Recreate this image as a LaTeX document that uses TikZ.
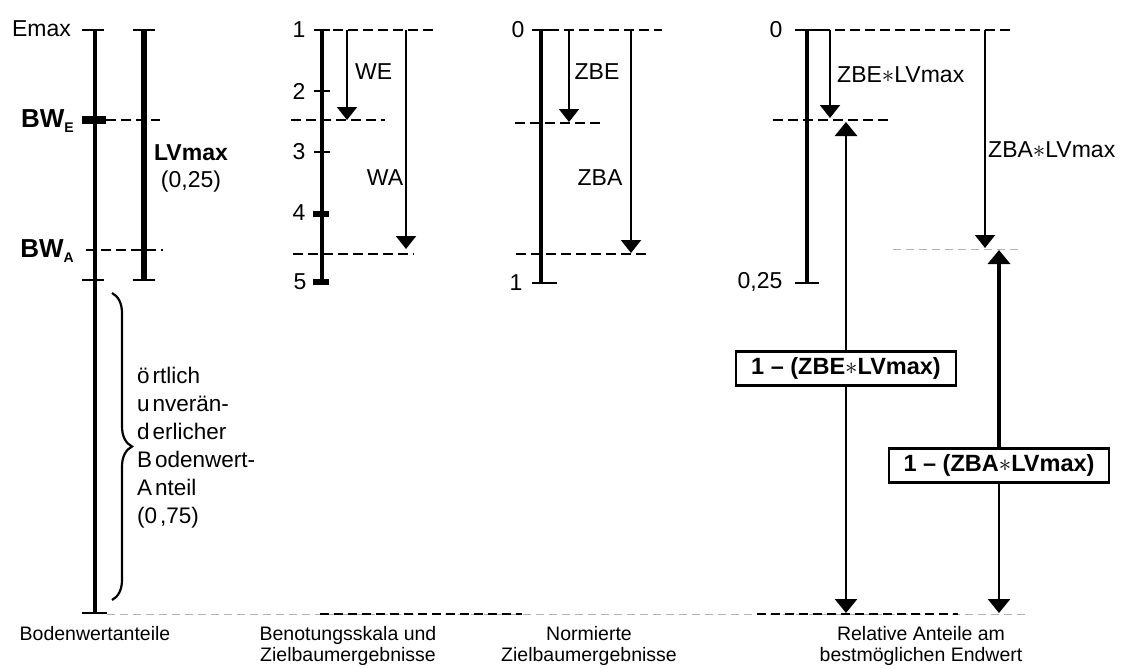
\documentclass[tikz,border=0pt]{standalone}
\usepackage{fontspec}
\setmainfont{Liberation Sans}
\usetikzlibrary{arrows.meta,decorations.pathreplacing}
\newcommand{\bwfont}{\fontsize{26}{28}\selectfont\bfseries}
\newcommand{\subfnt}{\fontsize{14}{14}\selectfont\bfseries}
\begin{document}
\begin{tikzpicture}[x=1pt,y=-1pt,
  every node/.style={inner sep=0pt, font=\fontsize{23}{26}\selectfont},
  scaleline/.style={line width=3.2pt},
  tickline/.style={line width=2.8pt},
  thickbar/.style={line width=6.5pt},
  dline/.style={line width=2.1pt, dash pattern=on 10pt off 5pt},
  gline/.style={line width=1pt, black!30, dash pattern=on 8pt off 5pt},
  bline/.style={line width=1.6pt, dash pattern=on 9pt off 5pt},
  thinarr/.style={line width=2pt, -{Triangle[width=20pt,length=13pt]}},
  medarr/.style={line width=2.8pt, -{Triangle[width=22pt,length=14pt]}},
  bigarr/.style={line width=4.5pt, -{Triangle[width=22pt,length=14pt]}},
  boxed/.style={draw, line width=2.6pt, fill=white, minimum height=34pt, minimum width=220pt, font=\fontsize{23.5}{25}\selectfont\bfseries},
  botlab/.style={align=center, font=\fontsize{19.5}{21}\selectfont},
  scalelab/.style={anchor=center},
]
\useasboundingbox (0,0) rectangle (1124,669);

% ---------------- left column: Bodenwertanteile
\coordinate (Ltop) at (95,30);
\coordinate (Lbot) at (95,613);
\draw[scaleline] (Ltop) -- (Lbot);
\draw[tickline] (82,30) -- (104,30);
\draw[tickline] (82,280) -- (104,280);
\draw[tickline] (82,613) -- (107,613);
\fill (82,116) rectangle (106,124);
\node[anchor=east] (emax) at (71,29) {Emax};
\node[anchor=east] (bwe) at (74,121) {\bwfont BW\raisebox{-5pt}{\subfnt E}};
\node[anchor=east] (bwa) at (74,251) {\bwfont BW\raisebox{-5pt}{\subfnt A}};
\draw[dline] (106,120) -- (160,120);
\draw[dline] (86,250) -- (163,250);

\coordinate (LVtop) at (144,30);
\coordinate (LVbot) at (144,280);
\draw[thickbar] (LVtop) -- (LVbot);
\draw[tickline] (133,30) -- (155,30);
\draw[tickline] (133,280) -- (155,280);
\node (lvmax) at (191,153) {\bfseries LVmax};
\node (lv25) at (191,182) {(0,25)};

\draw[line width=2.2pt, decorate, decoration={brace, amplitude=20pt}] (112,293) -- (112,600);
\node[anchor=west, align=left, font=\fontsize{22.5}{28}\selectfont] (oertl) at (137,448)
  {ö\kern3pt rtlich\\u\kern3pt nverän-\\d\kern3pt erlicher\\B\kern3pt odenwert-\\A\kern3pt nteil\\(0\kern3pt,75)};

% ---------------- column 2: Benotungsskala
\coordinate (Btop) at (322,30);
\coordinate (Bbot) at (322,283);
\draw[scaleline] (Btop) -- (Bbot);
\draw[tickline] (314,30) -- (330,30);
\draw[tickline] (314,91) -- (330,91);
\draw[tickline] (314,152) -- (330,152);
\fill (313,210.5) rectangle (329,216.5);
\fill (313,279) rectangle (329,285);
\node[scalelab] (s1) at (299,30) {1};
\node[scalelab] (s2) at (299,91) {2};
\node[scalelab] (s3) at (299,152) {3};
\node[scalelab] (s4) at (299,213) {4};
\node[scalelab] (s5) at (300,282) {5};
\draw[dline] (333,30) -- (436,30);
\draw[dline] (291,120) -- (385,120);
\draw[dline] (293,254) -- (414,254);
\coordinate (we0) at (347,30);
\coordinate (we1) at (347,120);
\draw[thinarr] (we0) -- (we1);
\coordinate (wa0) at (406,30);
\coordinate (wa1) at (406,249);
\draw[thinarr] (wa0) -- (wa1);
\node[anchor=west] (we) at (355,72) {WE};
\node (wa) at (385,178) {WA};

% ---------------- column 3: Normierte
\coordinate (Ntop) at (541,30);
\coordinate (Nbot) at (541,283);
\draw[scaleline] (Ntop) -- (Nbot);
\draw[tickline] (532,30) -- (549,30);
\draw[tickline] (532,283) -- (557,283);
\node[scalelab] (n0) at (518,30) {0};
\node[scalelab] (n1) at (516,283) {1};
\draw[dline] (549,30) -- (662,30);
\draw[dline] (515,123) -- (600,123);
\draw[dline] (516,254) -- (650,254);
\coordinate (zbe0) at (569,30);
\coordinate (zbe1) at (569,122);
\draw[thinarr] (zbe0) -- (zbe1);
\coordinate (zba0) at (631,30);
\coordinate (zba1) at (631,253);
\draw[thinarr] (zba0) -- (zba1);
\node (zbe) at (597,72) {ZBE};
\node (zba) at (600,178) {ZBA};

% ---------------- column 4: Relative Anteile
\coordinate (Rtop) at (807,30);
\coordinate (Rbot) at (807,283);
\draw[scaleline] (Rtop) -- (Rbot);
\draw[tickline] (795,30) -- (820,30);
\draw[tickline] (795,283) -- (819,283);
\node[scalelab] (r0) at (776,30) {0};
\node[scalelab] (r25) at (760,282) {0,25};
\draw[dline] (820,30) -- (1013,30);
\draw[dline] (773,120) -- (890,120);
\draw[gline] (893,249) -- (1018,249);
\coordinate (zbel0) at (830,30);
\coordinate (zbel1) at (830,118);
\draw[thinarr] (zbel0) -- (zbel1);
\coordinate (zbal0) at (985,30);
\coordinate (zbal1) at (985,248);
\draw[thinarr] (zbal0) -- (zbal1);
\node[anchor=west] (zbel) at (837,75) {ZBE$\ast$LVmax};
\node[anchor=west] (zbal) at (988,150) {ZBA$\ast$LVmax};

\node[boxed] (boxE) at (846,368.5) {1 – (ZBE$\ast$LVmax)};
\coordinate (eUp) at (846,122);
\coordinate (eDn) at (846,613);
\draw[medarr] (boxE.north) -- (eUp);
\draw[medarr] (boxE.south) -- (eDn);

\node[boxed] (boxA) at (999,465.5) {1 – (ZBA$\ast$LVmax)};
\coordinate (aUp) at (999,250);
\coordinate (aDn) at (999,613);
\draw[bigarr] (boxA.north) -- (aUp);
\draw[medarr] (boxA.south) -- (aDn);

% ---------------- bottom base line
\draw[gline] (107,614) -- (1025,614);
\draw[bline] (320,614) -- (522,614);
\draw[bline] (757,614) -- (958,614);

% ---------------- bottom labels
\node[botlab, anchor=north] (lab1) at (95,626) {Bodenwertanteile};
\node[botlab, anchor=north] (lab2) at (348,626) {Benotungsskala und\\Zielbaumergebnisse};
\node[botlab, anchor=north] (lab3) at (589,626) {Normierte\\Zielbaumergebnisse};
\node[botlab, anchor=north] (lab4) at (921,626) {Relative Anteile am\\bestmöglichen Endwert};
\end{tikzpicture}
\end{document}
